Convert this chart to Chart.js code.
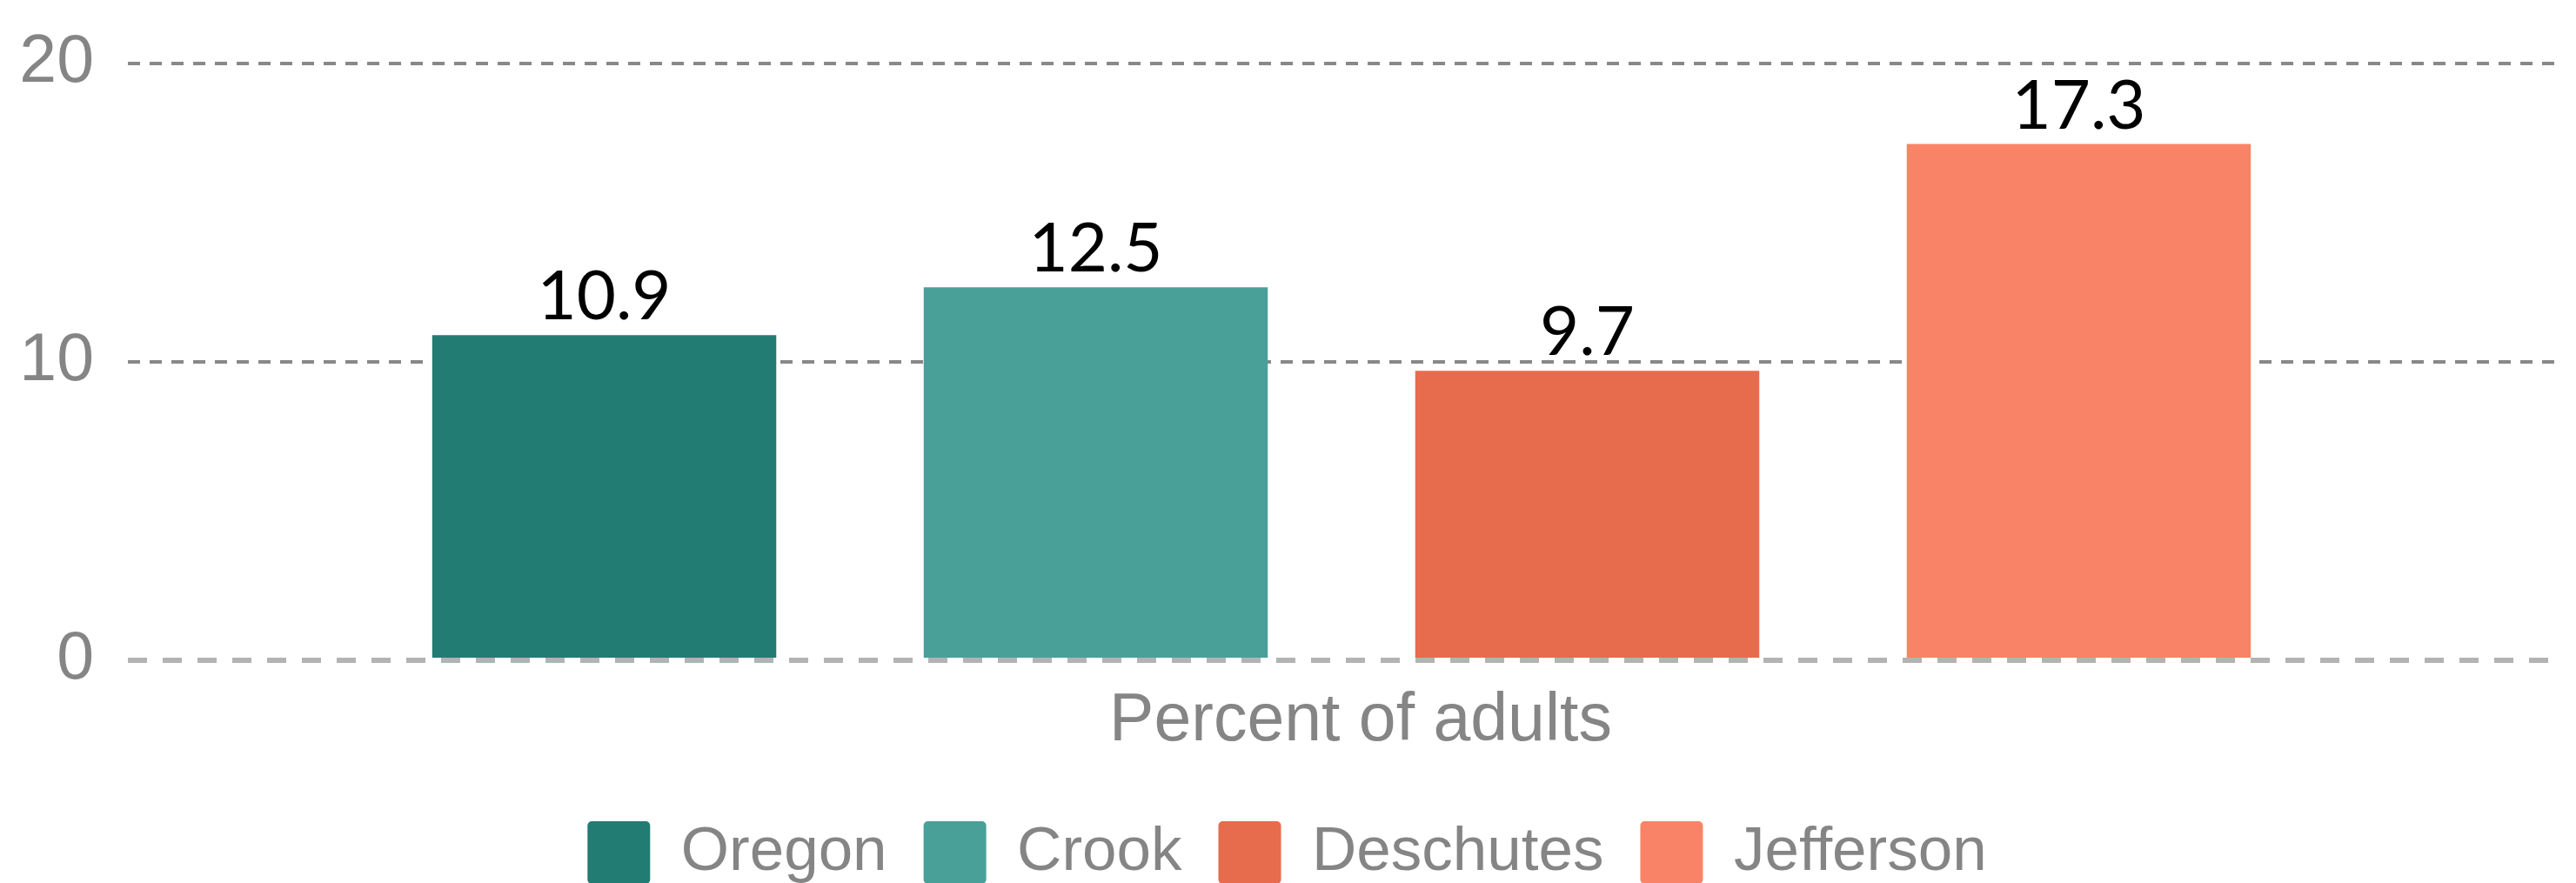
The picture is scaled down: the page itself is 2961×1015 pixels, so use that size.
<!DOCTYPE html>
<html>
<head>
<meta charset="utf-8">
<script src="https://cdn.jsdelivr.net/npm/chart.js@4.4.0/dist/chart.umd.min.js"></script>
<style>
  html, body { margin: 0; padding: 0; background: #fff; overflow: hidden; }
</style>
</head>
<body>
<canvas id="chart" width="2961" height="1026"></canvas>
<script>
// data
const categories = ['Percent of adults'];
const counties = ['Oregon', 'Crook', 'Deschutes', 'Jefferson'];
const values = [10.9, 12.5, 9.7, 17.3];
const colors = ['#227c73', '#49a098', '#e76b4d', '#f98366'];
const yTicks = [0, 10, 20];

const GREY = '#858585';
const SANS = '"Liberation Sans", Arial, sans-serif';

// dashed zero line, drawn over the bar feet
const zeroLine = {
    id: 'zeroLine',
    afterDatasetsDraw(chart) {
        const {ctx, chartArea, scales} = chart;
        const py = scales.y.getPixelForValue(yTicks[0]);
        ctx.save();
        ctx.lineWidth = 6;
        ctx.strokeStyle = '#ffffff';
        ctx.beginPath();
        ctx.moveTo(chartArea.left, py);
        ctx.lineTo(chartArea.right, py);
        ctx.stroke();
        ctx.setLineDash([22, 18]);
        ctx.strokeStyle = '#b3b3b3';
        ctx.beginPath();
        ctx.moveTo(chartArea.left, py);
        ctx.lineTo(chartArea.right, py);
        ctx.stroke();
        ctx.restore();
    }
};

// value labels above bars
const barLabels = {
    id: 'barLabels',
    afterDatasetsDraw(chart) {
        const ctx = chart.ctx;
        ctx.save();
        ctx.font = '78px Lato';
        ctx.fillStyle = '#000';
        ctx.textAlign = 'center';
        ctx.textBaseline = 'alphabetic';
        chart.data.datasets.forEach((dataset, i) => {
            chart.getDatasetMeta(i).data.forEach((bar, j) => {
                ctx.fillText(dataset.data[j].toFixed(1), bar.x, bar.y - 18);
            });
        });
        ctx.restore();
    }
};

const ctx = document.getElementById('chart').getContext('2d');

const chart = new Chart(ctx, {
    type: 'bar',
    data: {
        labels: categories,
        datasets: counties.map((name, i) => ({
            label: name,
            data: [values[i]],
            backgroundColor: colors[i],
            borderWidth: 0,
            categoryPercentage: 0.81,
            barPercentage: 0.7
        }))
    },
    options: {
        responsive: false,
        animation: false,
        layout: {
            padding: {top: 73, left: 22, right: 24, bottom: 0}
        },
        plugins: {
            tooltip: {enabled: false},
            legend: {
                display: true,
                position: 'bottom',
                labels: {
                    boxWidth: 72,
                    boxHeight: 72,
                    padding: 42,
                    color: GREY,
                    useBorderRadius: true,
                    borderRadius: 5,
                    font: {family: SANS, size: 71}
                }
            }
        },
        scales: {
            x: {
                grid: {display: false, drawTicks: false},
                border: {display: false},
                ticks: {
                    color: GREY,
                    padding: 25,
                    labelOffset: 22,
                    font: {family: SANS, size: 77}
                },
                afterFit(scale) {
                    scale.height = 143;
                }
            },
            y: {
                min: yTicks[0],
                max: yTicks[yTicks.length - 1],
                grid: {
                    drawTicks: false,
                    lineWidth: 4,
                    color: (c) => c.tick && c.tick.value === 0 ? 'rgba(0,0,0,0)' : '#888888'
                },
                border: {display: false, dash: [14, 11]},
                ticks: {
                    stepSize: 10,
                    color: GREY,
                    padding: 39,
                    font: {family: SANS, size: 77}
                },
                afterBuildTicks(scale) {
                    scale.ticks = yTicks.map(v => ({value: v}));
                },
                afterFit(scale) {
                    scale.width = 125;
                    scale.paddingTop = 0;
                    scale.paddingBottom = 0;
                }
            }
        }
    },
    plugins: [zeroLine, barLabels]
});
</script>
</body>
</html>
